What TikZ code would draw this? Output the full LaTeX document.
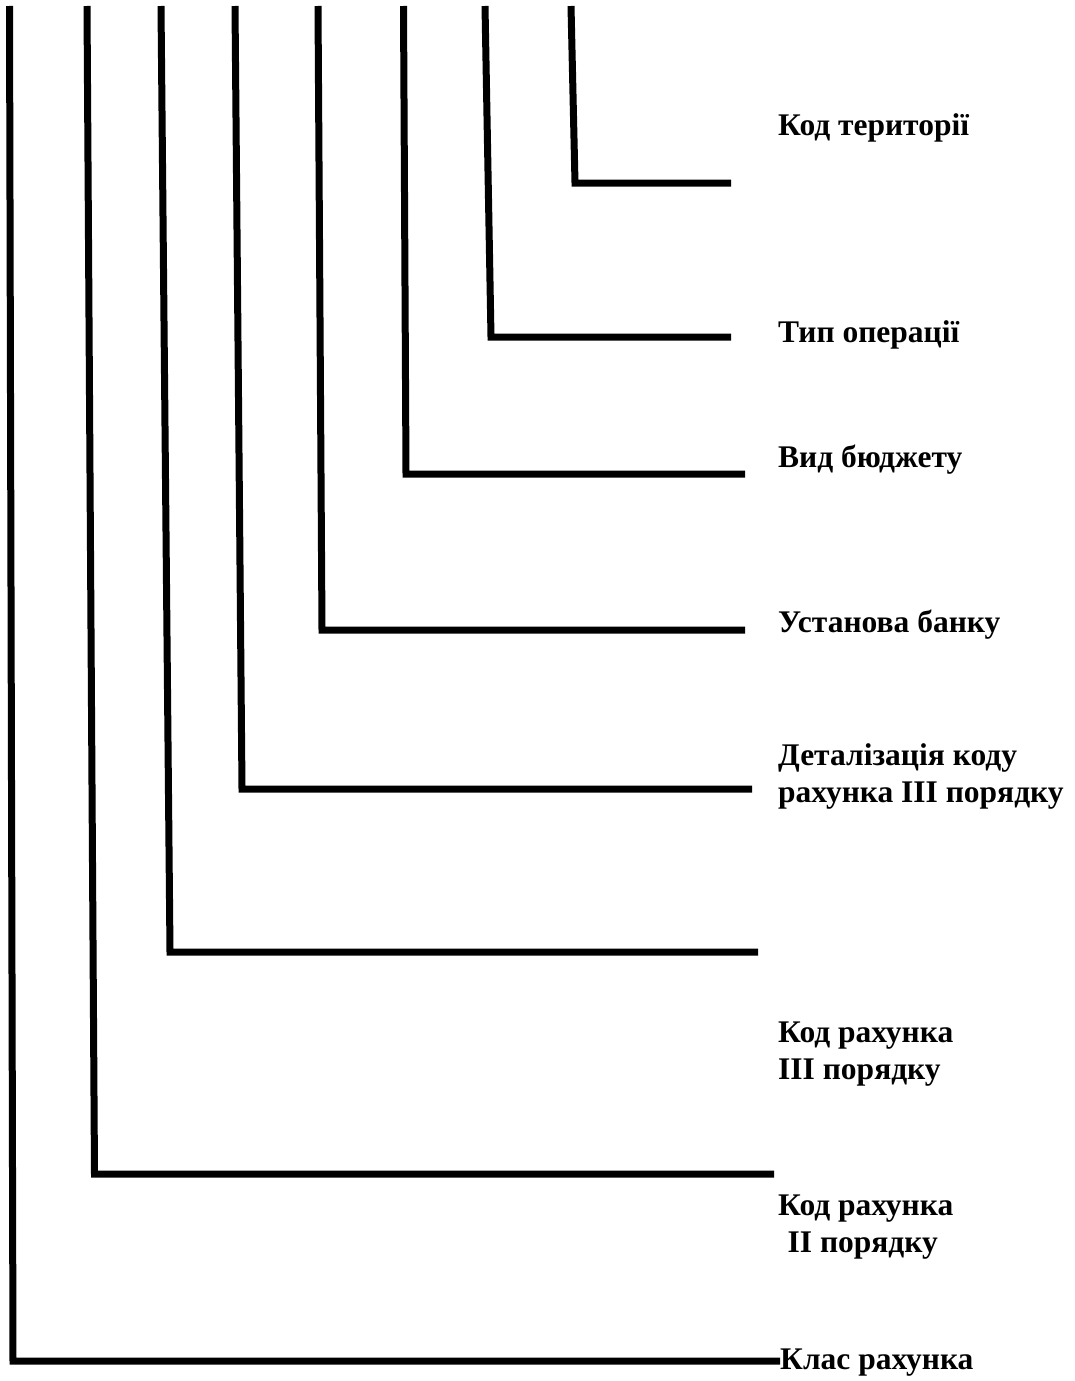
\documentclass[tikz,border=0pt]{standalone}
\usepackage{fontspec}
\setmainfont{Liberation Serif}
\usepackage{tikz}
\usetikzlibrary{positioning}

\tikzset{
  bar/.style={line width=7pt, line join=miter},
  lbl/.style={anchor=base west, inner sep=0pt, align=left,
    font=\fontsize{31.5}{37}\selectfont\bfseries}
}

\begin{document}
\begin{tikzpicture}[x=1pt,y=-1pt]
\useasboundingbox (0,0) rectangle (1075,1381);

% the eight brackets, outermost first
\draw (9.5,6) coordinate (t1);
\draw (13,1361) coordinate (c1);
\draw (780,1361) coordinate (e1);
\draw (87,6) coordinate (t2);
\draw (94.5,1174) coordinate (c2);
\draw (774,1174) coordinate (e2);
\draw (161,6) coordinate (t3);
\draw (170,952) coordinate (c3);
\draw (758,952) coordinate (e3);
\draw (235,6) coordinate (t4);
\draw (242,789) coordinate (c4);
\draw (752,789) coordinate (e4);
\draw (318,6) coordinate (t5);
\draw (322,630) coordinate (c5);
\draw (745,630) coordinate (e5);
\draw (403.5,6) coordinate (t6);
\draw (406,474) coordinate (c6);
\draw (745,474) coordinate (e6);
\draw (485,6) coordinate (t7);
\draw (491,337) coordinate (c7);
\draw (731,337) coordinate (e7);
\draw (571,6) coordinate (t8);
\draw (575,183) coordinate (c8);
\draw (731,183) coordinate (e8);

\draw [bar] (t1) -- (c1) -- (e1);
\draw [bar] (t2) -- (c2) -- (e2);
\draw [bar] (t3) -- (c3) -- (e3);
\draw [bar] (t4) -- (c4) -- (e4);
\draw [bar] (t5) -- (c5) -- (e5);
\draw [bar] (t6) -- (c6) -- (e6);
\draw [bar] (t7) -- (c7) -- (e7);
\draw [bar] (t8) -- (c8) -- (e8);

% labels (two-line ones sit on their last line)
\draw (778,135) node [lbl] (terr) {Код території};
\draw (778,342) node [lbl] (oper) {Тип операції};
\draw (778,467) node [lbl] (budg) {Вид бюджету};
\draw (778,632) node [lbl] (bank) {Установа банку};
\draw (778,802) node [lbl] (detl) {Деталізація коду\\рахунка III порядку};
\draw (778,1079) node [lbl] (acc3) {Код рахунка\\III порядку};
\draw (778,1252) node [lbl] (acc2) {Код рахунка\\\hspace*{0.3em}II порядку};
\draw (780,1369) node [lbl] (clss) {Клас рахунка};
\end{tikzpicture}
\end{document}
